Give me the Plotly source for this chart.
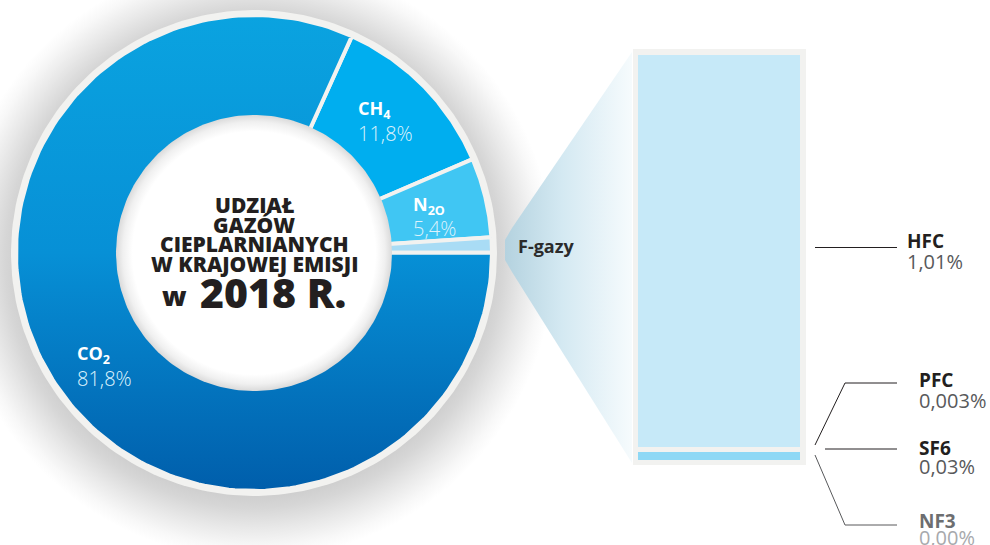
import numpy as np
import plotly.graph_objects as go

# Greenhouse gas shares of national emissions, 2018 (%)
gases = ["CO2", "CH4", "N2O", "F-gazy"]
gas_labels = ["CO<sub>2</sub>", "CH<sub>4</sub>", "N<sub>2O</sub>", "F-gazy"]
# F-gas breakdown (%)
fgas_names = ["HFC", "PFC", "SF6", "NF3"]
fgas_values = [1.01, 0.003, 0.03, 0.00]
fgas_text = ["1,01%", "0,003%", "0,03%", "0,00%"]
main_values = [81.8, 11.8, 5.4, sum(fgas_values)]
main_text = ["81,8%", "11,8%", "5,4%", ""]

FONT = "Open Sans"
CX, CY = 254, 253          # donut centre (px)
R_OUT, R_IN = 238, 135     # ring radii (px)
START_DEG = 65.7           # boundary between CO2 and CH4

slice_colors = {"CH4": "#00aeef", "N2O": "#40c6f3", "F-gazy": "#a9dcf5"}


def circle(cx, cy, r, n=240):
    t = np.linspace(0, 2 * np.pi, n)
    return cx + r * np.cos(t), cy - r * np.sin(t)


def ring_sector(a0, a1, n=200):
    t = np.radians(np.linspace(a0, a1, n))
    xo, yo = CX + R_OUT * np.cos(t), CY - R_OUT * np.sin(t)
    xi, yi = CX + R_IN * np.cos(t[::-1]), CY - R_IN * np.sin(t[::-1])
    return np.r_[xo, xi, xo[:1]], np.r_[yo, yi, yo[:1]]


fig = go.Figure()

# soft drop shadow behind the ring
sx, sy = circle(CX, CY + 6, 300)
fig.add_trace(go.Scatter(
    x=sx, y=sy, mode="lines", line=dict(width=0), fill="toself",
    fillgradient=dict(type="radial", colorscale=[
        [0, "#c9c9c9"], [0.78, "#cdcdcd"], [0.83, "#d6d6d6"],
        [0.9, "#e9e9e9"], [0.96, "#f8f8f8"], [1, "#ffffff"]]),
    hoverinfo="skip"))

# wedge leading from the F-gas slice to the breakdown column
fx = [505, 512, 632, 632, 512, 505, 505]
fy = [240, 228, 52, 463, 272, 260, 240]
fig.add_trace(go.Scatter(
    x=fx, y=fy, mode="lines", line=dict(width=0), fill="toself",
    fillgradient=dict(type="horizontal", start=505, stop=632, colorscale=[
        [0, "#b4d2df"], [0.45, "#d4e9f2"], [1, "#f6fbfd"]]),
    hoverinfo="skip"))

# light rim of the ring
bx, by = circle(CX, CY, R_OUT + 5)
fig.add_trace(go.Scatter(x=bx, y=by, mode="lines", line=dict(width=0),
                         fill="toself", fillcolor="#f2f2f0", hoverinfo="skip"))

# donut slices, clockwise from the CO2/CH4 boundary
total = sum(main_values)
order = ["CH4", "N2O", "F-gazy", "CO2"]
angle = START_DEG
for g in order:
    v = main_values[gases.index(g)]
    span = v / total * 360
    xs, ys = ring_sector(angle, angle - span)
    if g == "CO2":
        fig.add_trace(go.Scatter(
            x=xs, y=ys, mode="lines", line=dict(color="#f2f2f0", width=4),
            fill="toself",
            fillgradient=dict(type="vertical", start=CY - R_OUT, stop=CY + R_OUT,
                              colorscale=[[0, "#0aa3e0"], [0.5, "#0790d6"],
                                          [1, "#005eab"]]),
            hoverinfo="skip"))
    else:
        fig.add_trace(go.Scatter(
            x=xs, y=ys, mode="lines", line=dict(color="#f2f2f0", width=4),
            fill="toself", fillcolor=slice_colors[g], hoverinfo="skip"))
    angle -= span

# white centre with a soft inner edge
ix, iy = circle(CX, CY, R_IN + 3)
fig.add_trace(go.Scatter(
    x=ix, y=iy, mode="lines", line=dict(width=0), fill="toself",
    fillgradient=dict(type="radial", colorscale=[
        [0, "#ffffff"], [0.88, "#ffffff"], [0.95, "#f0f0f0"], [1, "#dadada"]]),
    hoverinfo="skip"))

# F-gas breakdown column (stacked, bottom to top)
stack_order = ["SF6", "PFC", "NF3", "HFC"]
col_colors = {"HFC": "#c6e9f8", "PFC": "#8ed8f5", "SF6": "#8ed8f5", "NF3": "#8ed8f5"}
for n in stack_order:
    fig.add_trace(go.Bar(
        x=["F-gazy"], y=[fgas_values[fgas_names.index(n)]],
        marker=dict(color=col_colors[n], line=dict(color="#f2f2f0", width=4)),
        xaxis="x2", yaxis="y2", hoverinfo="skip"))

# leader lines for the breakdown labels
lead = dict(mode="lines", hoverinfo="skip", line=dict(color="#231f20", width=1))
fig.add_trace(go.Scatter(x=[815, 897], y=[247.5, 247.5], **lead))
fig.add_trace(go.Scatter(x=[815, 845, 897], y=[445, 383, 383], **lead))
fig.add_trace(go.Scatter(x=[825, 897], y=[449, 449], **lead))
fig.add_trace(go.Scatter(x=[815, 845, 897], y=[455, 525, 525], mode="lines",
                         hoverinfo="skip", line=dict(color="#58595b", width=1)))

ann = []


def txt(x, y, s, size, color, weight=400, xanchor="left"):
    ann.append(dict(x=x, y=y, xref="x", yref="y", text=s, showarrow=False,
                    xanchor=xanchor, yanchor="middle",
                    font=dict(family=FONT, size=size, color=color, weight=weight)))


# slice labels
label_pos = {"CH4": (356, 109, 133), "N2O": (411, 205, 228), "CO2": (75, 354, 378)}
for g, (lx, ly1, ly2) in label_pos.items():
    i = gases.index(g)
    txt(lx, ly1, gas_labels[i], 18, "#ffffff", 700)
    txt(lx, ly2, main_text[i], 20, "#dcf2fc", 300)

txt(516, 246, "F-gazy", 18, "#2b2b2b", 700)

# breakdown labels
brk_pos = {"HFC": (905, 241, 261), "PFC": (917, 380, 400),
           "SF6": (917, 448, 466), "NF3": (917, 521, 537)}
name_col = {"HFC": "#231f20", "PFC": "#231f20", "SF6": "#231f20", "NF3": "#6d6e70"}
val_col = {"HFC": "#58595b", "PFC": "#58595b", "SF6": "#58595b", "NF3": "#a7a9ac"}
for n, (lx, ly1, ly2) in brk_pos.items():
    i = fgas_names.index(n)
    txt(lx, ly1, n, 19, name_col[n], 700)
    txt(lx, ly2, fgas_text[i], 20, val_col[n], 400)

# centre title
title_lines = ["UDZIAŁ", "GAZÓW", "CIEPLARNIANYCH", "W KRAJOWEJ EMISJI"]
for k, line in enumerate(title_lines):
    txt(CX, 205 + k * 19.5, line, 21, "#231f20", 800, xanchor="center")
txt(160, 295, "w", 27, "#231f20", 800)
txt(198, 292, "2018 R.", 41, "#231f20", 800)

fig.update_layout(
    width=990, height=545, margin=dict(l=0, r=0, t=0, b=0),
    paper_bgcolor="#ffffff", plot_bgcolor="#ffffff", showlegend=False,
    barmode="stack", bargap=0,
    xaxis=dict(range=[0, 990], visible=False, fixedrange=True),
    yaxis=dict(range=[545, 0], visible=False, fixedrange=True),
    xaxis2=dict(domain=[636 / 990, 802 / 990], range=[-0.5, 0.5],
                visible=False, anchor="y2"),
    yaxis2=dict(domain=[1 - 462 / 545, 1 - 53 / 545], range=[0, sum(fgas_values)],
                visible=False, anchor="x2"),
    shapes=[dict(type="rect", xref="x", yref="y", x0=633, x1=806, y0=49, y1=465,
                 fillcolor="#f2f2f0", line=dict(width=0), layer="below")],
    annotations=ann,
)

fig.write_html("out.html")
